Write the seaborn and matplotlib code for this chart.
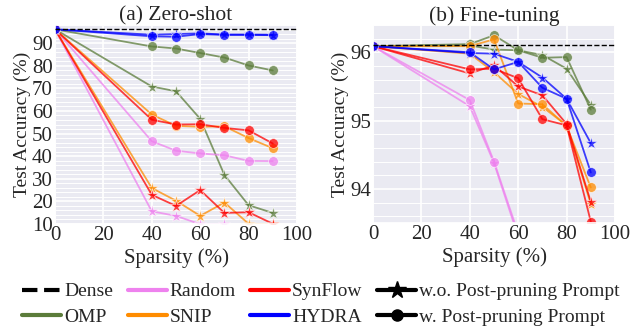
import numpy as np
import pandas as pd
import matplotlib
matplotlib.use("Agg")
import matplotlib.pyplot as plt
import seaborn as sns
from matplotlib.lines import Line2D
from matplotlib.ticker import MultipleLocator

sparsity = [0, 40, 50, 60, 70, 80, 90]
dense_acc = 96.1

# Zero-shot accuracies (w. = with post-pruning prompt, wo = without)
zs_omp_w = [96.1, 88.5, 87.6, 85.6, 83.6, 80.1, 77.9]
zs_omp_wo = [96.1, 70.8, 68.7, 56.5, 31.7, 18.3, 14.9]
zs_rand_w = [96.1, 46.6, 42.4, 41.2, 40.4, 37.9, 37.8]
zs_rand_wo = [96.1, 15.6, 13.6, 9.9, 9.9, 8.0, 7.0]
zs_snip_w = [96.1, 58.4, 53.4, 53.0, 53.2, 48.0, 43.5]
zs_snip_wo = [96.1, 25.9, 20.3, 13.6, 19.5, 10.1, 9.9]
zs_syn_w = [96.1, 56.1, 54.0, 54.1, 52.5, 51.4, 45.6]
zs_syn_wo = [96.1, 22.9, 18.0, 25.0, 14.9, 15.2, 10.1]
zs_hyd_w = [96.1, 93.0, 92.8, 94.0, 93.6, 93.6, 93.5]
zs_hyd_wo = [96.1, 93.7, 94.0, 94.3, 93.8, 93.8, 93.7]

# Fine-tuning accuracies
ft_omp_w = [96.09, 96.12, 96.25, 96.03, 95.92, 95.93, 95.16]
ft_omp_wo = [96.09, 96.10, 96.04, 96.03, 95.96, 95.76, 95.23]
ft_rand_w = [96.09, 95.30, 94.40, 93.35, 92.5, 91.5, 90.0]
ft_rand_wo = [96.09, 95.21, 94.38, 93.30, 92.4, 91.4, 89.8]
ft_snip_w = [96.09, 96.09, 96.19, 95.25, 95.24, 94.92, 94.02]
ft_snip_wo = [96.09, 95.98, 95.71, 95.39, 95.20, 94.93, 93.78]
ft_syn_w = [96.09, 95.75, 95.76, 95.62, 95.02, 94.93, 93.52]
ft_syn_wo = [96.09, 95.69, 95.81, 95.50, 95.37, 94.95, 93.81]
ft_hyd_w = [96.09, 96.00, 95.75, 95.86, 95.48, 95.32, 94.24]
ft_hyd_wo = [96.09, 95.99, 95.98, 95.86, 95.63, 95.32, 94.67]

methods = ["OMP", "Random", "SNIP", "SynFlow", "HYDRA"]
colors = {"OMP": "#5b7c3a", "Random": "violet", "SNIP": "darkorange",
          "SynFlow": "red", "HYDRA": "blue"}

zs = {"OMP": (zs_omp_w, zs_omp_wo), "Random": (zs_rand_w, zs_rand_wo),
      "SNIP": (zs_snip_w, zs_snip_wo), "SynFlow": (zs_syn_w, zs_syn_wo),
      "HYDRA": (zs_hyd_w, zs_hyd_wo)}
ft = {"OMP": (ft_omp_w, ft_omp_wo), "Random": (ft_rand_w, ft_rand_wo),
      "SNIP": (ft_snip_w, ft_snip_wo), "SynFlow": (ft_syn_w, ft_syn_wo),
      "HYDRA": (ft_hyd_w, ft_hyd_wo)}

sns.set_theme(style="darkgrid")
plt.rcParams["font.family"] = ["Liberation Serif", "DejaVu Serif"]
FS_TICK = 15
FS_TITLE = 15.5
FS_XLAB = 15
FS_YLAB = 14
FS_LEG = 14

fig = plt.figure(figsize=(6.32, 3.31), dpi=100)
W, H = 632, 331
axL = fig.add_axes([55 / W, 1 - 224 / H, 242 / W, 199 / H])
axR = fig.add_axes([373 / W, 1 - 223 / H, 242 / W, 198 / H])


def draw(ax, data, ylabelpad):
    for m in methods:
        w, wo = data[m]
        df = pd.DataFrame({"s": sparsity, "w": w, "wo": wo})
        sns.lineplot(data=df, x="s", y="wo", ax=ax, color=colors[m], marker="*",
                     markersize=9.5, markeredgewidth=0.5, linewidth=1.3, alpha=0.75,
                     legend=False)
        sns.lineplot(data=df, x="s", y="w", ax=ax, color=colors[m], marker="o",
                     markersize=7, markeredgewidth=0.5, linewidth=1.3, alpha=0.75,
                     legend=False)
    ax.axhline(dense_acc, color="black", linestyle="--", linewidth=1.0, zorder=5)
    ax.set_xlim(0, 100)
    ax.xaxis.set_major_locator(MultipleLocator(20))
    ax.set_xlabel("Sparsity (%)", fontsize=FS_XLAB, labelpad=2)
    ax.set_ylabel("Test Accuracy (%)", fontsize=FS_YLAB, labelpad=ylabelpad)
    ax.tick_params(axis="both", which="both", labelsize=FS_TICK, pad=1.5, length=0)
    ax.grid(which="minor", axis="y", color="white", linewidth=0.7)
    ax.grid(which="major", color="white", linewidth=1.2)


draw(axL, zs, 0.5)
axL.set_ylim(10, 98)
axL.yaxis.set_major_locator(MultipleLocator(10))
axL.yaxis.set_minor_locator(MultipleLocator(2))
axL.set_title("(a) Zero-shot", fontsize=FS_TITLE, pad=3)

draw(axR, ft, 1)
axR.set_ylim(93.5, 96.4)
axR.yaxis.set_major_locator(MultipleLocator(1))
axR.yaxis.set_minor_locator(MultipleLocator(0.2))
axR.set_title("(b) Fine-tuning", fontsize=FS_TITLE, pad=3)

handles = [
    Line2D([], [], color="black", linestyle="--", linewidth=3),
    Line2D([], [], color=colors["OMP"], linewidth=3),
    Line2D([], [], color=colors["Random"], linewidth=3),
    Line2D([], [], color=colors["SNIP"], linewidth=3),
    Line2D([], [], color=colors["SynFlow"], linewidth=3),
    Line2D([], [], color=colors["HYDRA"], linewidth=3),
    Line2D([], [], color="black", linewidth=3, marker="*", markersize=13),
    Line2D([], [], color="black", linewidth=3, marker="o", markersize=8),
]
labels = ["Dense", "OMP", "Random", "SNIP", "SynFlow", "HYDRA",
          "w.o. Post-pruning Prompt", "w. Post-pruning Prompt"]
fig.legend(handles, labels, ncol=4, loc="lower center", bbox_to_anchor=(0.508, -0.015),
           frameon=False, fontsize=FS_LEG, handlelength=2.0, handletextpad=0.15,
           columnspacing=0.75, labelspacing=0.42, borderaxespad=0.1)

fig.savefig("out.png", dpi=100)
